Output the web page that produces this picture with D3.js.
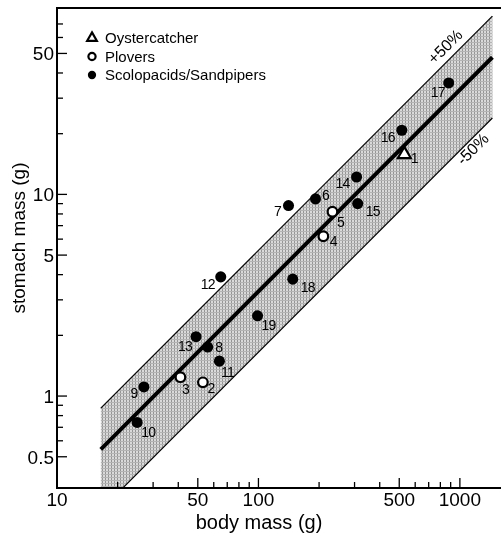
<!DOCTYPE html>
<html>
<head>
<meta charset="utf-8">
<script src="https://cdn.jsdelivr.net/npm/d3@7"></script>
<style>
    body { margin: 0; background: #fff; }
    svg { filter: grayscale(1); }
    text { font-family: "Liberation Sans", Arial, sans-serif; fill: #000; }
</style>
</head>
<body>
<svg id="chart" width="501" height="537"></svg>
<script>
// species number, group, body mass (g), stomach mass (g)
const speciesIds = [1, 2, 3, 4, 5, 6, 7, 8, 9, 10, 11, 12, 13, 14, 15, 16, 17, 18, 19];
const speciesGroups = ["oyster", "plover", "plover", "plover", "plover", "scolo", "scolo", "scolo", "scolo", "scolo",
    "scolo", "scolo", "scolo", "scolo", "scolo", "scolo", "scolo", "scolo", "scolo"];
const bodyMass = [530, 53, 41, 210, 233, 192, 141, 56, 27, 25, 64, 65, 49, 307, 311, 515, 880, 148, 99];
const stomachMass = [15.8, 1.17, 1.24, 6.2, 8.2, 9.5, 8.8, 1.75, 1.11, 0.74, 1.49, 3.9, 1.97, 12.2, 9.0, 20.8, 35.7, 3.8, 2.5];

// fitted allometric line and its band
const fitCoef = 0.033;
const fitExp = 1.0;
const fitRange = [16.5, 1450];
const bandFactors = [0.5, 1.6];

const legendGroups = ["oyster", "plover", "scolo"];
const legendLabels = ["Oystercatcher", "Plovers", "Scolopacids/Sandpipers"];

const xTickLabels = [10, 50, 100, 500, 1000];
const yTickLabels = [0.5, 1, 5, 10, 50];

// label placement around each point: [dx, dy] of the label centre
const LABEL_OFFSET = {
    1: [10, 4], 2: [8, 6], 3: [5, 12], 4: [10, 5], 5: [8, 10], 6: [10, -4], 7: [-11, 6],
    8: [11, 0], 9: [-10, 6], 10: [11, 10], 11: [8, 11], 12: [-13, 7], 13: [-11, 9],
    14: [-14, 6], 15: [15, 7], 16: [-14, 7], 17: [-11, 9], 18: [15, 8], 19: [11, 9]
};

const LEFT = 57, RIGHT = 501, TOP = 8, BOTTOM = 488;

const svg = d3.select("#chart");

const x = d3.scaleLog().domain([10, 1600]).range([LEFT, RIGHT]);
const y = d3.scaleLog().domain([0.35, 84]).range([BOTTOM, TOP]);

const fit = m => fitCoef * Math.pow(m, fitExp);

// screen-tone pattern for the band
const defs = svg.append("defs");
const pattern = defs.append("pattern")
    .attr("id", "tone")
    .attr("patternUnits", "userSpaceOnUse")
    .attr("width", 3)
    .attr("height", 3);
pattern.append("rect").attr("width", 3).attr("height", 3).attr("fill", "#dadada");
pattern.append("rect").attr("width", 1).attr("height", 3).attr("fill", "#959595");
pattern.append("rect").attr("width", 3).attr("height", 1).attr("fill", "#b4b4b4");

defs.append("clipPath")
    .attr("id", "plot-clip")
    .append("rect")
    .attr("x", LEFT)
    .attr("y", TOP)
    .attr("width", RIGHT - LEFT)
    .attr("height", BOTTOM - TOP);

const plot = svg.append("g").attr("clip-path", "url(#plot-clip)");

const [lo, hi] = bandFactors;
const bandPoly = [
    [fitRange[0], fit(fitRange[0]) * hi],
    [fitRange[1], fit(fitRange[1]) * hi],
    [fitRange[1], fit(fitRange[1]) * lo],
    [fitRange[0], fit(fitRange[0]) * lo]
];

plot.append("path")
    .attr("d", "M" + bandPoly.map(p => [x(p[0]), y(p[1])].join(",")).join("L") + "Z")
    .attr("fill", "url(#tone)");

bandFactors.forEach(f => {
    plot.append("line")
        .attr("x1", x(fitRange[0]))
        .attr("y1", y(fit(fitRange[0]) * f))
        .attr("x2", x(fitRange[1]))
        .attr("y2", y(fit(fitRange[1]) * f))
        .attr("stroke", "#000")
        .attr("stroke-width", 1.2);
});

plot.append("line")
    .attr("x1", x(fitRange[0]))
    .attr("y1", y(fit(fitRange[0])))
    .attr("x2", x(fitRange[1]))
    .attr("y2", y(fit(fitRange[1])))
    .attr("stroke", "#000")
    .attr("stroke-width", 4);

// band labels, set along the edges
const bandLabel = (mass, factor, text, dx, dy) => svg.append("text")
    .attr("transform", `translate(${ x(mass) + dx }, ${ y(fit(mass) * factor) + dy }) rotate(-45)`)
    .attr("text-anchor", "middle")
    .attr("dy", "0.35em")
    .attr("font-size", 16)
    .text(text);

bandLabel(930, hi, "+50%", -8.5, -8.5);
bandLabel(1085, lo, "-50%", 5.5, 5.5);

// frame
svg.append("path")
    .attr("d", `M${ RIGHT },${ TOP }H${ LEFT }V${ BOTTOM }H${ RIGHT }`)
    .attr("fill", "none")
    .attr("stroke", "#000")
    .attr("stroke-width", 2);

// ticks
const decadeTicks = (from, to) => {
    const ticks = [];
    for (let d = from; d < to; d *= 10) {
        for (let k = 1; k < 10; k++) ticks.push(+(d * k).toPrecision(2));
    }
    return ticks;
};

const xTicks = decadeTicks(10, 1000).filter(v => v > 10).concat([1000]);
const yTicks = decadeTicks(0.1, 100).filter(v => v >= 0.5 && v <= 70);

svg.append("g").selectAll("line")
    .data(xTicks)
    .join("line")
    .attr("x1", d => x(d))
    .attr("x2", d => x(d))
    .attr("y1", BOTTOM)
    .attr("y2", d => BOTTOM - (xTickLabels.includes(d) ? 10 : 6))
    .attr("stroke", "#000")
    .attr("stroke-width", 1.3);

svg.append("g").selectAll("line")
    .data(yTicks)
    .join("line")
    .attr("x1", LEFT)
    .attr("x2", d => LEFT + (yTickLabels.includes(d) ? 10 : 6))
    .attr("y1", d => y(d))
    .attr("y2", d => y(d))
    .attr("stroke", "#000")
    .attr("stroke-width", 1.3);

svg.append("g").selectAll("text")
    .data(xTickLabels)
    .join("text")
    .attr("x", d => x(d))
    .attr("y", 506)
    .attr("text-anchor", "middle")
    .attr("font-size", 19)
    .text(d => d);

svg.append("g").selectAll("text")
    .data(yTickLabels)
    .join("text")
    .attr("x", 54)
    .attr("y", d => y(d))
    .attr("dy", "0.36em")
    .attr("text-anchor", "end")
    .attr("font-size", 19)
    .text(d => d);

svg.append("text")
    .attr("x", 259)
    .attr("y", 529)
    .attr("text-anchor", "middle")
    .attr("font-size", 20)
    .text("body mass (g)");

svg.append("text")
    .attr("transform", "translate(25, 238) rotate(-90)")
    .attr("text-anchor", "middle")
    .attr("font-size", 19)
    .text("stomach mass (g)");

// markers
const drawMarker = (sel, group, size) => {
    if (group === "oyster") {
        return sel.append("path")
            .attr("d", d3.symbol(d3.symbolTriangle, size * size * 0.5)())
            .attr("fill", "#fff")
            .attr("stroke", "#000")
            .attr("stroke-width", 2.2);
    }
    return sel.append("circle")
        .attr("r", group === "plover" ? size * 0.4 : size * 0.46)
        .attr("fill", group === "plover" ? "#fff" : "#000")
        .attr("stroke", group === "plover" ? "#000" : "none")
        .attr("stroke-width", 2.2);
};

const birds = speciesIds.map((id, i) => ({
    id,
    group: speciesGroups[i],
    body: bodyMass[i],
    stomach: stomachMass[i]
}));

const points = svg.append("g").selectAll("g")
    .data(birds)
    .join("g")
    .attr("transform", d => `translate(${ x(d.body) }, ${ y(d.stomach) })`);

points.each(function (d) {
    drawMarker(d3.select(this), d.group, 12);
});

points.append("text")
    .attr("x", d => LABEL_OFFSET[d.id][0])
    .attr("y", d => LABEL_OFFSET[d.id][1])
    .attr("dy", "0.35em")
    .attr("text-anchor", "middle")
    .attr("font-size", 14)
    .attr("letter-spacing", -0.8)
    .text(d => d.id);

// legend
const legend = svg.append("g").selectAll("g")
    .data(legendGroups)
    .join("g")
    .attr("transform", (d, i) => `translate(92, ${ 38 + i * 18.5 })`);

legend.each(function (d) {
    drawMarker(d3.select(this), d, 9);
});

legend.append("text")
    .attr("x", 13)
    .attr("dy", "0.36em")
    .attr("font-size", 15)
    .text((d, i) => legendLabels[i]);
</script>
</body>
</html>
